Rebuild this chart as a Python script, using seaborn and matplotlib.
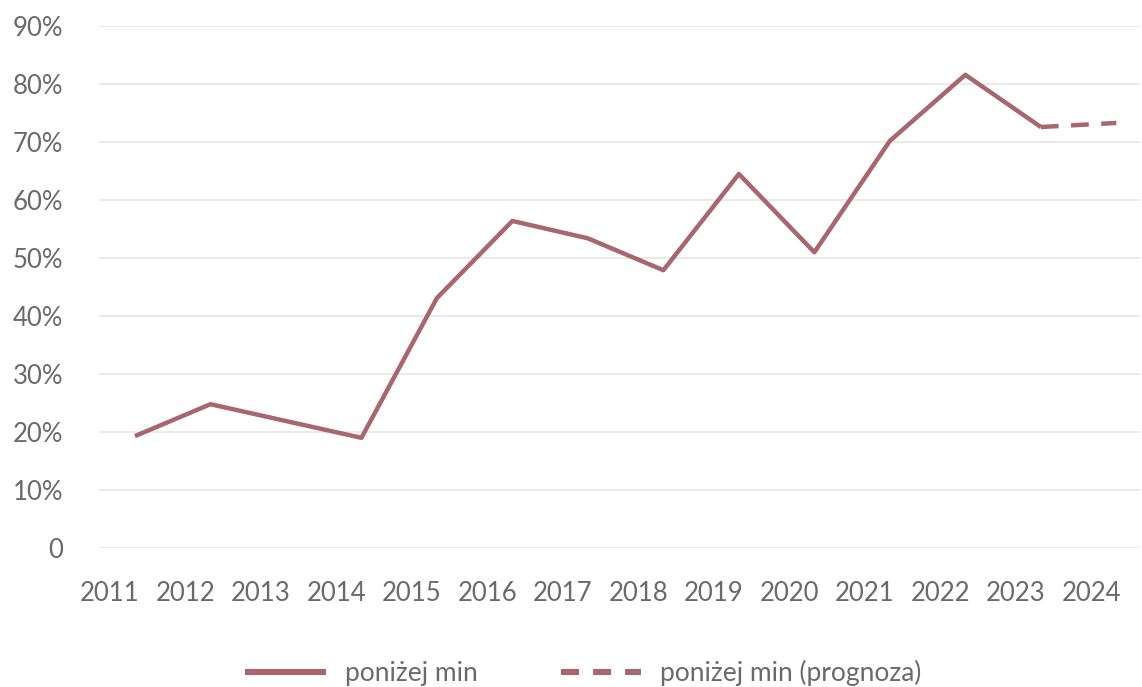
import matplotlib
matplotlib.use("Agg")
import matplotlib.pyplot as plt
import seaborn as sns
import pandas as pd

years = ["2011", "2012", "2013", "2014", "2015", "2016", "2017", "2018",
         "2019", "2020", "2021", "2022", "2023", "2024"]
actual = [19.3, 24.8, 21.9, 19.0, 43.1, 56.4, 53.4, 47.9, 64.5, 51.0, 70.2, 81.6, 72.6]
forecast_years = ["2023", "2024"]
forecast = [72.6, 73.3]
yticks = [0, 10, 20, 30, 40, 50, 60, 70, 80, 90]
ylabels = ["0", "10%", "20%", "30%", "40%", "50%", "60%", "70%", "80%", "90%"]

color = "#a8666e"
offset = 0.33

sns.set_theme(style="white")
plt.rcParams["font.family"] = ["Lato", "DejaVu Sans"]

fig = plt.figure(figsize=(11.42, 6.87), dpi=100)
ax = fig.add_axes([0.0867, 0.2023, 0.9113, 0.7597])

pos = {y: i for i, y in enumerate(years)}
df_a = pd.DataFrame({"x": [pos[y] + offset for y in years[:len(actual)]], "v": actual})
df_f = pd.DataFrame({"x": [pos[y] + offset for y in forecast_years], "v": forecast})

sns.lineplot(data=df_a, x="x", y="v", ax=ax, color=color, linewidth=3.2,
             label="poniżej min", solid_capstyle="butt")
sns.lineplot(data=df_f, x="x", y="v", ax=ax, color=color, linewidth=3.2,
             linestyle=(0, (4, 2.8)), label="poniżej min (prognoza)", dash_capstyle="butt")

ax.set_xlim(-0.146, 13.64)
ax.set_ylim(0, 90)
ax.set_xticks(range(len(years)))
ax.set_xticklabels(years)
ax.set_yticks(yticks)
ax.set_yticklabels(ylabels)
ax.set_xlabel("")
ax.set_ylabel("")
ax.grid(axis="y", color="#e8e8e8", linewidth=1.3)
ax.set_axisbelow(True)
for s in ax.spines.values():
    s.set_visible(False)
ax.tick_params(axis="both", length=0, labelsize=18.5, colors="#6a6a6a")
ax.tick_params(axis="y", pad=26)
ax.tick_params(axis="x", pad=24)

ax.get_legend().remove()
h, l = ax.get_legend_handles_labels()
leg = fig.legend(h, l, loc="center", bbox_to_anchor=(0.511, 1 - 673 / 687), ncol=2,
                 frameon=False, fontsize=19, handlelength=3.05, columnspacing=3.15,
                 handletextpad=0.72)
for t in leg.get_texts():
    t.set_color("#6a6a6a")
lines = leg.get_lines()
for ln in lines:
    ln.set_linewidth(4.4)
    ln.set_solid_capstyle("butt")
    ln.set_dash_capstyle("butt")
lines[1].set_dashes((2.95, 2.3))

fig.savefig("out.png", dpi=100)
